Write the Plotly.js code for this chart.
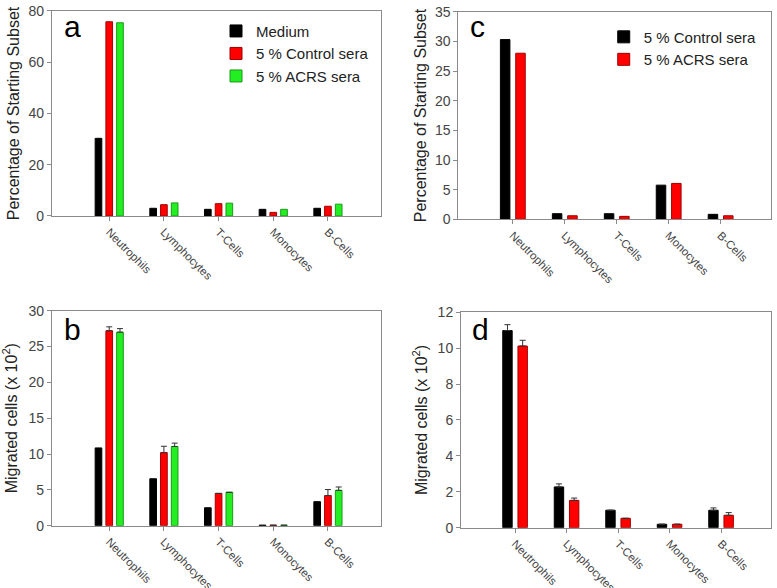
<!DOCTYPE html>
<html>
<head>
<meta charset="utf-8">
<script src="https://cdn.plot.ly/plotly-3.0.1.min.js"></script>
<style>html,body{margin:0;padding:0;background:#fff;}#chart{width:777px;height:588px;}</style>
</head>
<body>
<div id="chart"></div>
<script>
// ---- data ----
const categories = ['Neutrophils', 'Lymphocytes', 'T-Cells', 'Monocytes', 'B-Cells'];

// panel a: percentage of starting subset
const aMedium  = [30.3, 3.0, 2.6, 2.6, 3.0];
const aControl = [75.8, 4.4, 4.8, 1.4, 3.8];
const aAcrs    = [75.4, 5.1, 5.0, 2.6, 4.6];

// panel b: migrated cells (x 10^2)
const bMedium     = [10.85, 6.55, 2.5, 0.08, 3.35];
const bControl    = [27.2, 10.2, 4.5, 0.06, 4.2];
const bControlErr = [0.55, 0.88, 0, 0, 0.84];
const bAcrs       = [27.0, 11.05, 4.65, 0.06, 4.93];
const bAcrsErr    = [0.5, 0.47, 0, 0, 0.47];

// panel c: percentage of starting subset
const cControl = [30.3, 0.95, 0.95, 5.76, 0.84];
const cAcrs    = [28.0, 0.6, 0.5, 6.05, 0.6];

// panel d: migrated cells (x 10^2)
const dControl    = [10.98, 2.27, 0.97, 0.19, 0.97];
const dControlErr = [0.33, 0.17, 0, 0, 0.13];
const dAcrs       = [10.12, 1.52, 0.52, 0.19, 0.69];
const dAcrsErr    = [0.32, 0.13, 0, 0, 0.15];

// ---- styles ----
const BLACK = {fill: '#000000', line: '#000000'};
const RED   = {fill: '#ff0000', line: '#a00000'};
const GREEN = {fill: '#22ee22', line: '#1a9a1a'};

function bar(name, y, col, xa, ya, legend, showlegend, err) {
  const t = {
    type: 'bar', name: name, x: categories, y: y,
    xaxis: xa, yaxis: ya,
    marker: {color: col.fill, line: {color: col.line, width: 1}},
    legend: legend, showlegend: showlegend, hoverinfo: 'skip'
  };
  if (err) {
    t.error_y = {type: 'data', symmetric: false, array: err,
      arrayminus: err.map(() => 0), color: '#333', thickness: 1, width: 3};
  }
  return t;
}

const data = [
  bar('Medium', aMedium, BLACK, 'x', 'y', 'legend', true),
  bar('5 % Control sera', aControl, RED, 'x', 'y', 'legend', true),
  bar('5 % ACRS sera', aAcrs, GREEN, 'x', 'y', 'legend', true),

  bar('Medium', bMedium, BLACK, 'x2', 'y2', 'legend', false),
  bar('5 % Control sera', bControl, RED, 'x2', 'y2', 'legend', false, bControlErr),
  bar('5 % ACRS sera', bAcrs, GREEN, 'x2', 'y2', 'legend', false, bAcrsErr),

  bar('5 % Control sera', cControl, BLACK, 'x3', 'y3', 'legend2', true),
  bar('5 % ACRS sera', cAcrs, RED, 'x3', 'y3', 'legend2', true),

  bar('5 % Control sera', dControl, BLACK, 'x4', 'y4', 'legend2', false, dControlErr),
  bar('5 % ACRS sera', dAcrs, RED, 'x4', 'y4', 'legend2', false, dAcrsErr)
];

const FONT = 'Liberation Sans, Arial, sans-serif';
const AXCOL = '#8a8a8a';

function xax(domain, anchor) {
  return {
    domain: domain, anchor: anchor, type: 'category', range: [-1.05, 4.97],
    showline: true, mirror: true, linecolor: AXCOL, linewidth: 1,
    ticks: 'outside', ticklen: 4, tickcolor: AXCOL, tickangle: 45,
    tickfont: {family: FONT, size: 11.5, color: '#444'},
    showgrid: false, zeroline: false, fixedrange: true
  };
}
function yax(domain, anchor, range, dtick, title, standoff) {
  return {
    domain: domain, anchor: anchor, range: range, dtick: dtick,
    showline: true, mirror: true, linecolor: AXCOL, linewidth: 1,
    ticks: 'outside', ticklen: 4, tickcolor: AXCOL,
    tickfont: {family: FONT, size: 14, color: '#444'},
    showgrid: false, zeroline: false, fixedrange: true,
    title: {text: title, font: {family: FONT, size: 16, color: '#222'}, standoff: standoff}
  };
}

function letter(t, xref, yref, y) {
  return {text: t, xref: xref + ' domain', yref: yref + ' domain', x: 0.03, y: y,
    xanchor: 'left', yanchor: 'middle', showarrow: false,
    font: {family: FONT, size: 30, color: '#000'}};
}

const layout = {
  width: 777, height: 588,
  margin: {l: 0, r: 0, t: 0, b: 0},
  paper_bgcolor: '#fff', plot_bgcolor: '#fff',
  barmode: 'group', bargap: 0.41, bargroupgap: 0.38,
  font: {family: FONT, color: '#222'},
  xaxis:  xax([0.0667, 0.4903], 'y'),
  yaxis:  yax([0.6327, 0.9813], 'x', [0, 80], 20, 'Percentage of Starting Subset', 4),
  xaxis2: xax([0.0667, 0.4903], 'y2'),
  yaxis2: yax([0.1060, 0.4716], 'x2', [0, 30], 5, 'Migrated cells (x 10<sup>2</sup>)', 7),
  xaxis3: xax([0.5898, 0.9923], 'y3'),
  yaxis3: yax([0.6270, 0.9801], 'x3', [0, 35], 5, 'Percentage of Starting Subset', 4),
  xaxis4: xax([0.5933, 0.9923], 'y4'),
  yaxis4: yax([0.1026, 0.4689], 'x4', [0, 12], 2, 'Migrated cells (x 10<sup>2</sup>)', 6),
  legend: {x: 0.278, y: 0.975, xanchor: 'left', yanchor: 'top',
    bgcolor: 'rgba(0,0,0,0)', font: {family: FONT, size: 15, color: '#222'},
    tracegroupgap: 0, itemclick: false, itemdoubleclick: false},
  legend2: {x: 0.777, y: 0.965, xanchor: 'left', yanchor: 'top',
    bgcolor: 'rgba(0,0,0,0)', font: {family: FONT, size: 15, color: '#222'},
    tracegroupgap: 0, itemclick: false, itemdoubleclick: false},
  annotations: [
    letter('a', 'x', 'y', 0.922),
    letter('b', 'x2', 'y2', 0.913),
    letter('c', 'x3', 'y3', 0.929),
    letter('d', 'x4', 'y4', 0.92)
  ]
};

Plotly.newPlot('chart', data, layout, {displayModeBar: false, staticPlot: true});
</script>
</body>
</html>
